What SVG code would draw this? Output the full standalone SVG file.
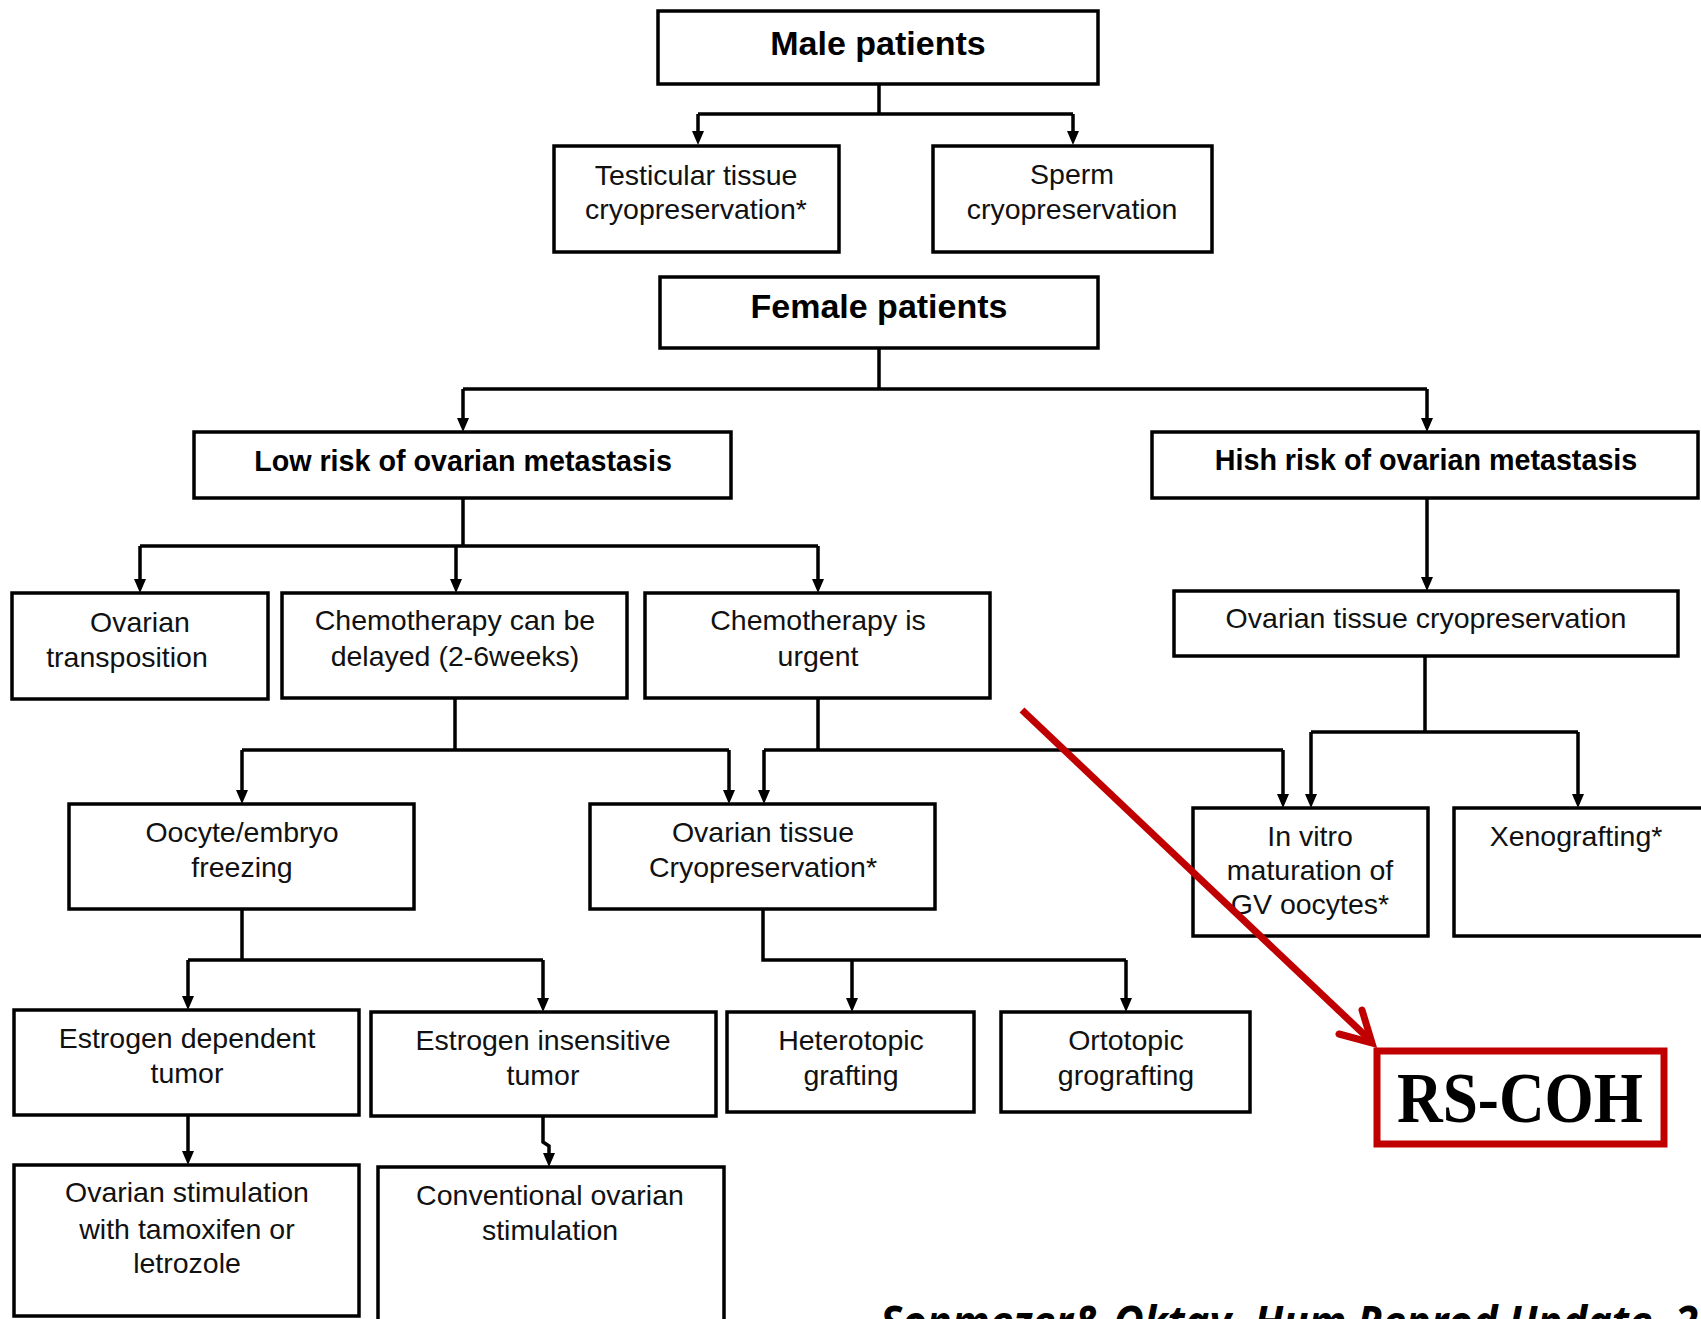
<svg xmlns="http://www.w3.org/2000/svg" width="1701" height="1319" viewBox="0 0 1701 1319">
<style>
.box{fill:#fff;stroke:#000;stroke-width:3.5}
.t{font-family:"Liberation Sans",Arial,sans-serif;font-size:28.5px;fill:#111;text-anchor:middle}
.b{font-family:"Liberation Sans",Arial,sans-serif;font-weight:bold;fill:#000;text-anchor:middle}
.c{fill:none;stroke:#000;stroke-width:3.5}
.ah{fill:#000}
.red{fill:none;stroke:#C00000;stroke-width:7}
</style>
<rect width="1701" height="1319" fill="#fff"/>
<g id="connectors">
<path class="c" d="M879,84 V114 M698,114 H1073 M698,114 V131 M1073,114 V131"/>
<path class="ah" d="M692,131 L704,131 L698,145 Z M1067,131 L1079,131 L1073,145 Z"/>

<path class="c" d="M879,348 V389 M463,389 H1427 M463,389 V418 M1427,389 V418"/>
<path class="ah" d="M457,418 L469,418 L463,432 Z M1421,418 L1433,418 L1427,432 Z"/>

<path class="c" d="M463,498 V546 M140,546 H818 M140,546 V579 M456,546 V579 M818,546 V579"/>
<path class="ah" d="M134,579 L146,579 L140,593 Z M450,579 L462,579 L456,593 Z M812,579 L824,579 L818,593 Z"/>

<path class="c" d="M1427,498 V577"/>
<path class="ah" d="M1421,577 L1433,577 L1427,591 Z"/>

<path class="c" d="M455,698 V750 M242,750 H729 M242,750 V790 M729,750 V790"/>
<path class="ah" d="M236,790 L248,790 L242,804 Z M723,790 L735,790 L729,804 Z"/>

<path class="c" d="M818,698 V750 M764,750 H1283 M764,750 V790 M1283,750 V794"/>
<path class="ah" d="M758,790 L770,790 L764,804 Z M1277,794 L1289,794 L1283,808 Z"/>

<path class="c" d="M1425,656 V732 M1311,732 H1578 M1311,732 V794 M1578,732 V794"/>
<path class="ah" d="M1305,794 L1317,794 L1311,808 Z M1572,794 L1584,794 L1578,808 Z"/>

<path class="c" d="M242,909 V960 M188,960 H543 M188,960 V996 M543,960 V998"/>
<path class="ah" d="M182,996 L194,996 L188,1010 Z M537,998 L549,998 L543,1012 Z"/>

<path class="c" d="M763,909 V960 H1126 M852,960 V998 M1126,960 V998"/>
<path class="ah" d="M846,998 L858,998 L852,1012 Z M1120,998 L1132,998 L1126,1012 Z"/>

<path class="c" d="M188,1115 V1151"/>
<path class="ah" d="M182,1151 L194,1151 L188,1165 Z"/>

<path class="c" d="M543,1116 V1142 L549,1146 V1153"/>
<path class="ah" d="M543,1153 L555,1153 L549,1167 Z"/>
</g>

<g id="male"><rect class="box" x="658" y="11" width="440" height="73"/><text class="b" x="878" y="55" font-size="34">Male patients</text></g>
<g id="testicular"><rect class="box" x="554" y="146" width="285" height="106"/><text class="t" x="696" y="185">Testicular tissue</text><text class="t" x="696" y="219">cryopreservation*</text></g>
<g id="sperm"><rect class="box" x="933" y="146" width="279" height="106"/><text class="t" x="1072" y="184">Sperm</text><text class="t" x="1072" y="219">cryopreservation</text></g>
<g id="female"><rect class="box" x="660" y="277" width="438" height="71"/><text class="b" x="879" y="318" font-size="34">Female patients</text></g>
<g id="lowrisk"><rect class="box" x="194" y="432" width="537" height="66"/><text class="b" x="463" y="471" font-size="28.7">Low risk of ovarian metastasis</text></g>
<g id="highrisk"><rect class="box" x="1152" y="432" width="546" height="66"/><text class="b" x="1426" y="470" font-size="28.7">Hish risk of ovarian metastasis</text></g>
<g id="transposition"><rect class="box" x="12" y="593" width="256" height="106"/><text class="t" x="140" y="632">Ovarian</text><text class="t" x="127" y="667">transposition</text></g>
<g id="delayed"><rect class="box" x="282" y="593" width="345" height="105"/><text class="t" x="455" y="630">Chemotherapy can be</text><text class="t" x="455" y="666">delayed (2-6weeks)</text></g>
<g id="urgent"><rect class="box" x="645" y="593" width="345" height="105"/><text class="t" x="818" y="630">Chemotherapy is</text><text class="t" x="818" y="666">urgent</text></g>
<g id="highcryo"><rect class="box" x="1174" y="591" width="504" height="65"/><text class="t" x="1426" y="628">Ovarian tissue cryopreservation</text></g>
<g id="oocyte"><rect class="box" x="69" y="804" width="345" height="105"/><text class="t" x="242" y="842">Oocyte/embryo</text><text class="t" x="242" y="877">freezing</text></g>
<g id="ovcryo"><rect class="box" x="590" y="804" width="345" height="105"/><text class="t" x="763" y="842">Ovarian tissue</text><text class="t" x="763" y="877">Cryopreservation*</text></g>
<g id="invitro"><rect class="box" x="1193" y="808" width="235" height="128"/><text class="t" x="1310" y="846">In vitro</text><text class="t" x="1310" y="880">maturation of</text><text class="t" x="1310" y="914">GV oocytes*</text></g>
<g id="xeno"><rect class="box" x="1454" y="808" width="250" height="128"/><text class="t" x="1576" y="846">Xenografting*</text></g>
<g id="estdep"><rect class="box" x="14" y="1010" width="345" height="105"/><text class="t" x="187" y="1048">Estrogen dependent</text><text class="t" x="187" y="1083">tumor</text></g>
<g id="estins"><rect class="box" x="371" y="1012" width="345" height="104"/><text class="t" x="543" y="1050">Estrogen insensitive</text><text class="t" x="543" y="1085">tumor</text></g>
<g id="hetero"><rect class="box" x="727" y="1012" width="247" height="100"/><text class="t" x="851" y="1050">Heterotopic</text><text class="t" x="851" y="1085">grafting</text></g>
<g id="orto"><rect class="box" x="1001" y="1012" width="249" height="100"/><text class="t" x="1126" y="1050">Ortotopic</text><text class="t" x="1126" y="1085">grografting</text></g>
<g id="stimtam"><rect class="box" x="14" y="1165" width="345" height="151"/><text class="t" x="187" y="1202">Ovarian stimulation</text><text class="t" x="187" y="1239">with tamoxifen or</text><text class="t" x="187" y="1273">letrozole</text></g>
<g id="conv"><rect class="box" x="378" y="1167" width="346" height="160"/><text class="t" x="550" y="1205">Conventional ovarian</text><text class="t" x="550" y="1240">stimulation</text></g>
<g id="rscoh"><rect x="1377" y="1051" width="287" height="93" fill="#fff" stroke="#C00000" stroke-width="7"/><text x="1397" y="1122" font-family="'Liberation Serif','Times New Roman',serif" font-weight="bold" font-size="72" textLength="246" lengthAdjust="spacingAndGlyphs" fill="#000">RS-COH</text></g>
<g id="red-arrow">
<path class="red" d="M1022,710 L1371,1041"/>
<path class="red" d="M1362,1010 L1372,1043 L1339,1034" stroke-linecap="round"/>
</g>
<text x="880" y="1338" font-family="'Open Sans','Liberation Sans',sans-serif" font-weight="bold" font-style="italic" font-size="44" textLength="818" lengthAdjust="spacingAndGlyphs" fill="#000">Sonmezer&amp; Oktay, Hum Reprod Update, 2</text>
</svg>
